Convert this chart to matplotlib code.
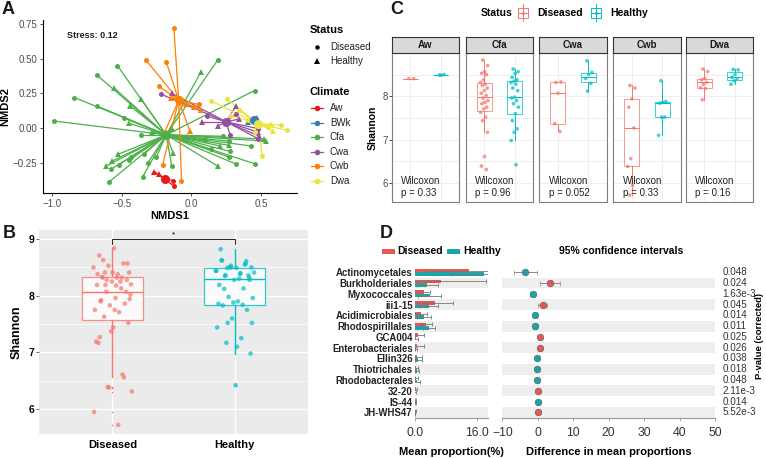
import matplotlib
matplotlib.use("Agg")
import matplotlib.pyplot as plt
import numpy as np
from matplotlib.lines import Line2D
from matplotlib.patches import Rectangle
from matplotlib.collections import LineCollection
from matplotlib.transforms import blended_transform_factory

plt.rcParams['font.family'] = ['Liberation Sans', 'DejaVu Sans']

W, H = 766, 458

# ---------------------------------------------------------------- data
# A: NMDS ordination, points per climate (x, y, status) and group centroids
climates = ["Aw", "BWk", "Cfa", "Cwa", "Cwb", "Dwa"]
climate_colors = ["#E41A1C", "#377EB8", "#4DAF4A", "#984EA3", "#FF7F00", "#E9E43E"]

aw_x = [-0.13, -0.125, -0.175, -0.265, -0.235]
aw_y = [-0.38, -0.42, -0.37, -0.315, -0.33]
aw_s = ["D", "D", "D", "H", "H"]

bwk_x = [0.41, 0.47, 0.45]
bwk_y = [0.045, 0.075, 0.06]
bwk_s = ["H", "H", "H"]

cfa_x = [-0.985, -0.84, -0.675, -0.68, -0.53, -0.48, -0.36, -0.34, -0.43, -0.45,
         -0.52, -0.58, -0.59, -0.35, -0.31, -0.25, -0.14, 0.19, 0.455, 0.225,
         0.28, 0.27, 0.32, 0.46, 0.43, 0.145, 0.27, 0.10,
         -0.555, -0.36, -0.44, -0.45, -0.61, -0.57, -0.525, -0.13, -0.14, 0.07,
         0.19, 0.21, 0.27, 0.525, 0.535, -0.03, -0.28]
cfa_y = [0.05, 0.22, 0.38, 0.16, 0.45, 0.07, -0.05, -0.19, -0.21, -0.235,
         -0.265, -0.30, -0.39, -0.355, -0.25, -0.21, -0.275, 0.49, 0.27, -0.06,
         -0.17, -0.21, -0.26, -0.26, -0.13, -0.155, -0.095, -0.09,
         0.29, 0.21, 0.16, 0.035, -0.275, -0.24, -0.19, -0.18, -0.01, 0.405,
         -0.275, -0.13, -0.125, -0.08, -0.095, -0.065, -0.03]
cfa_s = ["D"] * 28 + ["H"] * 17

cwa_x = [-0.22, 0.115, 0.28, 0.32, 0.48, 0.48, -0.14, 0.08, 0.19, 0.32, 0.34, 0.48, 0.49]
cwa_y = [0.245, 0.085, -0.053, 0.10, -0.005, -0.077, 0.25, 0.045, 0.012, 0.157, 0.063, -0.03, -0.06]
cwa_s = ["D"] * 6 + ["H"] * 7

cwb_x = [-0.125, -0.325, -0.18, -0.23, 0.055, -0.205, -0.07, -0.19, -0.01, -0.145, -0.08, -0.04, 0.02, 0.07]
cwb_y = [0.725, 0.49, 0.48, 0.30, 0.17, -0.265, -0.38, -0.03, -0.02, 0.22, 0.20, 0.175, 0.15, 0.13]
cwb_s = ["D"] * 8 + ["H"] * 6

dwa_x = [0.145, 0.255, 0.34, 0.405, 0.51, 0.645, 0.69, 0.55, 0.455, 0.285, 0.57, 0.59]
dwa_y = [0.195, 0.21, 0.13, 0.055, -0.2, 0.02, -0.017, 0.007, -0.03, 0.09, 0.03, -0.025]
dwa_s = ["D"] * 9 + ["H"] * 3

centroid_x = [-0.19, 0.45, -0.18, 0.25, -0.09, 0.48]
centroid_y = [-0.37, 0.058, -0.05, 0.045, 0.20, 0.03]

# C: Shannon index per climate and status
facet_climates = ["Aw", "Cfa", "Cwa", "Cwb", "Dwa"]
aw_dis = [8.41, 8.41]
aw_hea = [8.49, 8.50, 8.49]
cfa_dis = [8.84, 8.71, 8.57, 8.53, 8.50, 8.38, 8.32, 8.28, 8.25, 8.19, 8.13, 8.07, 8.02,
           7.96, 7.90, 7.86, 7.83, 7.75, 7.71, 7.63, 7.52, 7.44, 7.17, 6.61, 6.39, 6.31]
cfa_hea = [8.63, 8.57, 8.53, 8.44, 8.38, 8.35, 8.32, 8.28, 8.19, 8.13, 7.98, 7.96, 7.90,
           7.83, 7.75, 7.60, 7.44, 7.25, 7.17, 6.98, 6.42]
cwa_dis = [8.32, 8.33, 8.07, 7.37, 7.19]
cwa_hea = [8.82, 8.55, 8.50, 8.41, 8.30, 8.12]
cwb_dis = [8.25, 8.19, 7.94, 7.75, 7.27, 6.56, 6.38, 5.95, 5.72]
cwb_hea = [8.36, 7.88, 7.86, 7.84, 7.52, 7.52, 7.10]
dwa_dis = [8.63, 8.57, 8.41, 8.38, 8.32, 8.28, 8.20, 8.18, 7.92]
dwa_hea = [8.62, 8.61, 8.50, 8.44, 8.40, 8.36, 8.28]
wilcox_p = ["0.33", "0.96", "0.052", "0.33", "0.16"]

# D: STAMP extended error bar
taxa = ["Actinomycetales", "Burkholderiales", "Myxococcales", "iii1-15", "Acidimicrobiales",
        "Rhodospirillales", "GCA004", "Enterobacteriales", "Ellin326", "Thiotrichales",
        "Rhodobacterales", "32-20", "IS-44", "JH-WHS47"]
mean_dis = [14.0, 6.8, 2.25, 5.1, 1.6, 2.9, 0.8, 0.6, 0.5, 0.35, 0.35, 0.15, 0.08, 0.1]
sd_dis = [10.6, 11.5, 1.55, 4.6, 1.5, 1.4, 1.5, 1.6, 1.4, 0.35, 0.45, 0.45, 0.12, 0.2]
mean_hea = [17.9, 3.2, 3.8, 3.6, 2.3, 3.6, 0.35, 0.25, 0.8, 0.6, 0.5, 0.1, 0.08, 0.05]
sd_hea = [8.5, 2.8, 3.0, 2.4, 1.9, 1.6, 0.55, 0.25, 0.9, 0.5, 0.7, 0.25, 0.05, 0.05]
diff = [-3.5, 3.4, -1.4, 1.4, -0.7, -0.7, 0.5, 0.5, -0.2, -0.25, -0.2, 0.15, -0.03, 0.07]
ci_low = [-6.8, 0.5, -2.1, 0.0, -1.1, -1.2, 0.1, 0.1, -0.5, -0.4, -0.45, -0.05, -0.1, -0.05]
ci_high = [-0.1, 6.4, -0.7, 2.5, -0.3, -0.2, 0.9, 0.9, 0.05, -0.1, 0.05, 0.35, 0.04, 0.2]
pvals = ["0.048", "0.024", "1.63e-3", "0.045", "0.014", "0.011", "0.025", "0.026",
         "0.038", "0.018", "0.048", "2.11e-3", "0.014", "5.52e-3"]

# ---------------------------------------------------------------- helpers
def fx(px):
    return px / W

def fy(py):
    return 1 - py / H

def rect(l, t, r, b):
    return [fx(l), fy(b), (r - l) / W, (b - t) / H]

def jitter(n, width):
    # fixed spread pattern, so the figure is the same every run
    return ((np.arange(n) * 0.618034 + 0.31) % 1 - 0.5) * 2 * width

RED, TEAL = "#F8766D", "#00BFC4"
TXT = "#4D4D4D"

fig = plt.figure(figsize=(W / 100, H / 100), dpi=100)

# ---------------------------------------------------------------- A
axA = fig.add_axes(rect(43, 20, 297, 193))
groups = [(aw_x, aw_y, aw_s), (bwk_x, bwk_y, bwk_s), (cfa_x, cfa_y, cfa_s),
          (cwa_x, cwa_y, cwa_s), (cwb_x, cwb_y, cwb_s), (dwa_x, dwa_y, dwa_s)]
for i, (gx, gy, gs) in enumerate(groups):
    col = climate_colors[i]
    cx, cy = centroid_x[i], centroid_y[i]
    segs = [[(cx, cy), (x, y)] for x, y in zip(gx, gy)]
    axA.add_collection(LineCollection(segs, colors=col, linewidths=0.9, zorder=2))
for i, (gx, gy, gs) in enumerate(groups):
    col = climate_colors[i]
    gx, gy, gs = np.array(gx), np.array(gy), np.array(gs)
    m = gs == "D"
    axA.plot(gx[m], gy[m], "o", color=col, ms=3.6, mew=0, zorder=3)
    axA.plot(gx[~m], gy[~m], "^", color=col, ms=4.0, mew=0, zorder=3)
    axA.plot(centroid_x[i], centroid_y[i], "o", color=col, ms=6.5, mew=0, zorder=4)
axA.set_xlim(-1.065, 0.76)
axA.set_ylim(-0.47, 0.78)
axA.set_xticks([-1.0, -0.5, 0.0, 0.5])
axA.set_xticklabels(["\u22121.0", "\u22120.5", "0.0", "0.5"])
axA.set_yticks([-0.25, 0.0, 0.25, 0.5, 0.75])
axA.set_yticklabels(["\u22120.25", "0.00", "0.25", "0.50", "0.75"])
axA.tick_params(labelsize=7, colors=TXT, length=2.5, width=0.6, pad=1.5)
axA.tick_params(colors="#333333", labelcolor=TXT)
for s in ["top", "right"]:
    axA.spines[s].set_visible(False)
for s in ["left", "bottom"]:
    axA.spines[s].set_linewidth(0.8)
axA.set_xlabel("NMDS1", fontsize=8, fontweight="bold", labelpad=2)
axA.set_ylabel("NMDS2", fontsize=8, fontweight="bold", labelpad=2)
axA.text(0.093, 0.913, "Stress: 0.12", transform=axA.transAxes, fontsize=6.5,
         fontweight="bold", ha="left", va="center", color="#222222")

# A legends, drawn in figure pixels
fig.text(fx(310), fy(30), "Status", fontsize=8, fontweight="bold", va="center")
fig.add_artist(Line2D([fx(317)], [fy(47)], marker="o", color="black", ms=3.2, mew=0))
fig.add_artist(Line2D([fx(317)], [fy(61)], marker="^", color="black", ms=3.8, mew=0))
fig.text(fx(330), fy(47), "Diseased", fontsize=7, va="center", color="#222222")
fig.text(fx(330), fy(61), "Healthy", fontsize=7, va="center", color="#222222")
fig.text(fx(310), fy(92), "Climate", fontsize=8, fontweight="bold", va="center")
for i, name in enumerate(climates):
    yy = fy(108 + i * 14.6)
    fig.add_artist(Line2D([fx(311), fx(323)], [yy, yy], color=climate_colors[i], lw=0.9))
    fig.add_artist(Line2D([fx(317)], [yy], marker="o", color=climate_colors[i], ms=4, mew=0))
    fig.text(fx(330), yy, name, fontsize=7, va="center", color="#222222")

# ---------------------------------------------------------------- C
c_dis = [aw_dis, cfa_dis, cwa_dis, cwb_dis, dwa_dis]
c_hea = [aw_hea, cfa_hea, cwa_hea, cwb_hea, dwa_hea]
facet_x = [(392, 459), (466, 533), (539, 607), (613, 681), (686, 753)]
for i, clim in enumerate(facet_climates):
    l, r = facet_x[i]
    ax = fig.add_axes(rect(l, 53, r, 202))
    for k, (vals, col) in enumerate([(c_dis[i], RED), (c_hea[i], TEAL)]):
        pos = k + 1
        bp = ax.boxplot([vals], positions=[pos], widths=0.5, patch_artist=True,
                        showfliers=False, manage_ticks=False)
        for p in bp["boxes"]:
            p.set(facecolor="white", edgecolor=col, linewidth=0.7, alpha=0.75)
        for ln in bp["whiskers"] + bp["medians"]:
            ln.set(color=col, linewidth=0.7)
        for ln in bp["caps"]:
            ln.set_visible(False)
        ax.scatter(pos + jitter(len(vals), 0.13), vals, s=7, color=col, alpha=0.75,
                   edgecolors="none", zorder=3)
    ax.set_xlim(0.4, 2.6)
    ax.set_ylim(5.56, 9.0)
    ax.set_xticks([])
    ax.set_yticks([6, 7, 8])
    ax.set_yticks([6.5, 7.5, 8.5], minor=True)
    ax.grid(True, which="both", axis="y", color="#EBEBEB", lw=0.6)
    for xv in [1, 2]:
        ax.axvline(xv, color="#EBEBEB", lw=0.6, zorder=0)
    ax.set_axisbelow(True)
    ax.tick_params(which="minor", length=0)
    if i == 0:
        ax.tick_params(labelsize=7, labelcolor=TXT, length=2, width=0.5, pad=1)
        ax.set_ylabel("Shannon", fontsize=7.5, fontweight="bold", labelpad=3)
    else:
        ax.tick_params(labelleft=False, length=0)
    for s in ax.spines.values():
        s.set_color("#7F7F7F")
        s.set_linewidth(0.8)
    ax.text(0.14, 0.03, "Wilcoxon\np = " + wilcox_p[i], transform=ax.transAxes,
            fontsize=7, ha="left", va="bottom", linespacing=1.15, color="#222222")
    st = fig.add_axes(rect(l, 37, r, 53))
    st.set_facecolor("#D9D9D9")
    st.set_xticks([])
    st.set_yticks([])
    for s in st.spines.values():
        s.set_color("#333333")
        s.set_linewidth(0.8)
    st.text(0.5, 0.5, clim, transform=st.transAxes, ha="center", va="center",
            fontsize=7, fontweight="bold", color="#1A1A1A")

# C legend
fig.text(fx(481), fy(13), "Status", fontsize=7.5, fontweight="bold", va="center")
for cx, col, name in [(523, RED, "Diseased"), (596, TEAL, "Healthy")]:
    fig.add_artist(Line2D([fx(cx), fx(cx)], [fy(4), fy(21)], color=col, lw=0.7))
    fig.add_artist(Rectangle((fx(cx - 5), fy(18)), 10 / W, 10 / H, transform=fig.transFigure,
                             facecolor="white", edgecolor=col, lw=0.7))
    fig.add_artist(Line2D([fx(cx - 5), fx(cx + 5)], [fy(13), fy(13)], color=col, lw=0.7))
    fig.add_artist(Line2D([fx(cx)], [fy(13)], marker="o", color=col, ms=2.2, mew=0))
    fig.text(fx(cx + 14), fy(13), name, fontsize=7.5, fontweight="bold", va="center")

# ---------------------------------------------------------------- B
b_dis = np.concatenate(c_dis)
b_hea = np.concatenate(c_hea)
axB = fig.add_axes(rect(39, 230, 308, 434))
axB.set_facecolor("#EBEBEB")
for k, (vals, col) in enumerate([(b_dis, RED), (b_hea, TEAL)]):
    pos = k + 1
    bp = axB.boxplot([vals], positions=[pos], widths=0.5, patch_artist=True,
                     manage_ticks=False,
                     flierprops=dict(marker="o", markersize=1.2, linestyle="none",
                                     markerfacecolor=col, markeredgecolor="none"))
    for p in bp["boxes"]:
        p.set(facecolor="white", edgecolor=col, linewidth=0.9, alpha=0.8)
    for ln in bp["whiskers"] + bp["medians"]:
        ln.set(color=col, linewidth=1.0)
    for ln in bp["caps"]:
        ln.set_visible(False)
    axB.scatter(pos + jitter(len(vals), 0.16), vals, s=11, color=col, alpha=0.7,
                edgecolors="none", zorder=3)
axB.plot([1, 1, 2, 2], [8.92, 9.0, 9.0, 8.92], color="black", lw=0.6)
axB.text(1.5, 9.02, "*", ha="center", va="bottom", fontsize=6)
axB.set_xlim(0.4, 2.6)
axB.set_ylim(5.56, 9.16)
axB.set_xticks([1, 2])
axB.set_xticklabels(["Diseased", "Healthy"], fontsize=8, fontweight="bold")
axB.set_yticks([6, 7, 8, 9])
axB.set_yticks([6.5, 7.5, 8.5], minor=True)
axB.set_yticklabels(["6", "7", "8", "9"], fontsize=7.5, fontweight="bold")
axB.grid(True, which="major", color="white", lw=1.0)
axB.grid(True, which="minor", axis="y", color="white", lw=0.5)
axB.set_axisbelow(True)
axB.tick_params(which="major", length=2, width=0.5, color="#333333", pad=1.5)
axB.tick_params(which="minor", length=0)
axB.tick_params(axis="x", length=0, pad=4)
for s in axB.spines.values():
    s.set_visible(False)
axB.set_ylabel("Shannon", fontsize=9, fontweight="bold", labelpad=4)

# ---------------------------------------------------------------- D
rows = np.arange(len(taxa))
DRED, DTEAL = "#E6584F", "#1CA5A8"
STRIPE = "#EEEEEE"
axL = fig.add_axes(rect(415, 266.9, 487.7, 417.7))
axR = fig.add_axes(rect(502.3, 266.9, 715, 417.7))
for ax in (axL, axR):
    for r in rows[1::2]:
        ax.axhspan(r - 0.5, r + 0.5, color=STRIPE, lw=0, zorder=0)
    ax.set_ylim(len(taxa) - 0.5, -0.5)
    for s in ["top", "right", "left"]:
        ax.spines[s].set_visible(False)
    ax.spines["bottom"].set_color("#999999")
    ax.spines["bottom"].set_linewidth(0.8)
    ax.tick_params(axis="x", labelsize=8.8, labelcolor="#333333", color="#999999",
                   length=2.5, width=0.6, pad=4)

bh = 0.32
axL.barh(rows - bh / 2, mean_dis, height=bh, color=DRED, zorder=2)
axL.barh(rows + bh / 2, mean_hea, height=bh, color=DTEAL, zorder=2)
axL.errorbar(mean_dis, rows - bh / 2, xerr=sd_dis, fmt="none", ecolor="#777777",
             elinewidth=0.6, capsize=1.5, capthick=0.6, zorder=3)
axL.errorbar(mean_hea, rows + bh / 2, xerr=sd_hea, fmt="none", ecolor="#777777",
             elinewidth=0.6, capsize=1.5, capthick=0.6, zorder=3)
axL.set_xlim(0, 18.8)
axL.set_xticks([0, 16])
axL.set_xticklabels(["0.0", "16.0"])
axL.set_yticks(rows)
axL.set_yticklabels(taxa, fontsize=6.9, fontweight="bold", color="#222222")
axL.tick_params(axis="y", length=0, pad=1.5)
axL.set_xlabel("Mean proportion(%)", fontsize=8, fontweight="bold", labelpad=6)

d = np.array(diff)
cols = [DRED if v > 0 else DTEAL for v in d]
for r in rows:
    axR.errorbar(d[r], r, xerr=[[d[r] - ci_low[r]], [ci_high[r] - d[r]]], fmt="o",
                 color=cols[r], ms=4.8, mec="#555555", mew=0.4, ecolor="#777777",
                 elinewidth=0.6, capsize=1.8, capthick=0.6, zorder=3)
axR.set_xlim(-10, 50)
axR.set_xticks([-10, 0, 10, 20, 30, 40, 50])
axR.set_yticks([])
axR.set_xlabel("Difference in mean proportions", fontsize=8, fontweight="bold", labelpad=6)
tr = blended_transform_factory(axR.transAxes, axR.transData)
for r in rows:
    axR.text(1.035, r, pvals[r], transform=tr, fontsize=7.1, va="center", ha="left",
             color="#333333")
fig.text(fx(760), fy(336), "P-value (corrected)", rotation=90, fontsize=6.8,
         fontweight="bold", ha="center", va="center")

# D legend
fig.add_artist(Rectangle((fx(382), fy(254)), 13 / W, 5 / H, transform=fig.transFigure,
                         color=DRED, lw=0))
fig.text(fx(397), fy(251.5), "Diseased", fontsize=7.5, fontweight="bold", va="center")
fig.add_artist(Rectangle((fx(447), fy(254)), 13 / W, 5 / H, transform=fig.transFigure,
                         color=DTEAL, lw=0))
fig.text(fx(463), fy(251.5), "Healthy", fontsize=7.5, fontweight="bold", va="center")
fig.text(fx(621), fy(251.5), "95% confidence intervals", fontsize=7.5, fontweight="bold",
         ha="center", va="center")

# ---------------------------------------------------------------- panel letters
for lab, px, py in [("A", 2, 10), ("B", 3, 233), ("C", 390, 10), ("D", 380, 234)]:
    fig.text(fx(px), fy(py), lab, fontsize=13, fontweight="bold", va="center", ha="left",
             color="#1A1A1A")

fig.savefig("out.png", dpi=100)
